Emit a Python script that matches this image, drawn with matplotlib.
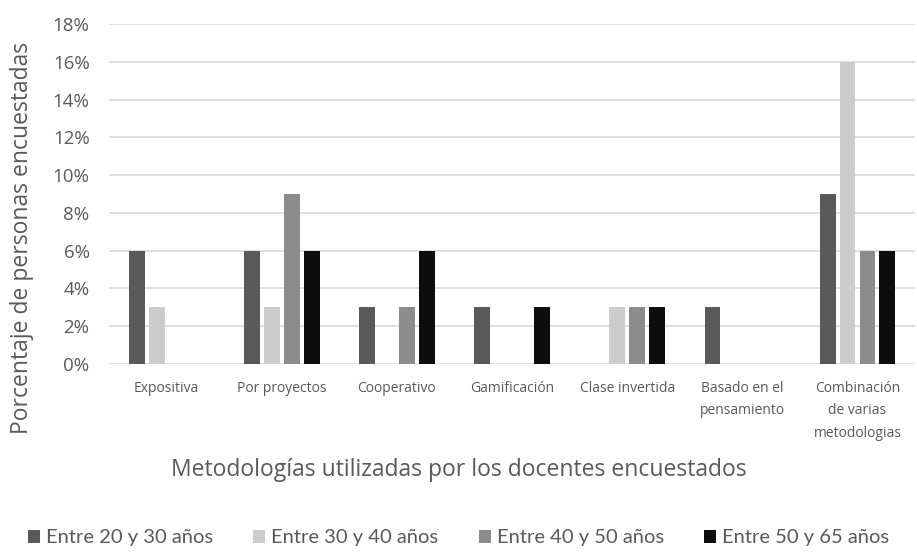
import matplotlib
matplotlib.use("Agg")
import matplotlib.pyplot as plt
import numpy as np
from matplotlib.ticker import FuncFormatter, MultipleLocator

plt.rcParams['font.family'] = ['Open Sans', 'DejaVu Sans']

categories = ["Expositiva", "Por proyectos", "Cooperativo", "Gamificación",
              "Clase invertida", "Basado en el\npensamiento",
              "Combinación\nde varias\nmetodologias"]
series_names = ["Entre 20 y 30 años", "Entre 30 y 40 años",
                "Entre 40 y 50 años", "Entre 50 y 65 años"]
entre_20_30 = [6, 6, 3, 3, 0, 3, 9]
entre_30_40 = [3, 3, 0, 0, 3, 0, 16]
entre_40_50 = [0, 9, 3, 0, 3, 0, 6]
entre_50_65 = [0, 6, 6, 3, 3, 0, 6]
colors = ["#595959", "#cccccc", "#8c8c8c", "#0d0d0d"]

series = [entre_20_30, entre_30_40, entre_40_50, entre_50_65]

fig = plt.figure(figsize=(9.17, 5.53), dpi=100)
ax = fig.add_axes([0.1189, 0.3418, 0.879, 0.6148])

x = np.arange(len(categories))
step = 0.173
width = 0.138
for i, (vals, col, name) in enumerate(zip(series, colors, series_names)):
    ax.bar(x + (i - 1.5) * step, np.array(vals) / 100.0, width=width,
           color=col, label=name, zorder=3)

ax.set_xlim(-0.5, len(categories) - 0.5)
ax.set_ylim(0, 0.18)
ax.yaxis.set_major_locator(MultipleLocator(0.02))
ax.yaxis.set_major_formatter(FuncFormatter(lambda v, p: f"{round(v*100)}%"))
ax.grid(axis='y', color='#d9d9d9', linewidth=1.2, zorder=0)
for s in ax.spines.values():
    s.set_visible(False)
ax.tick_params(axis='both', length=0)
ax.tick_params(axis='y', labelsize=13.5, labelcolor='#595959', pad=14)
ax.set_xticks(x)
ax.set_xticklabels(categories, fontsize=10, color='#595959', va='top',
                   linespacing=1.7)
ax.tick_params(axis='x', pad=12)

fig.text(22 / 917, 1 - 238 / 553, "Porcentaje de personas encuestadas",
         rotation=90, ha='center', va='center', fontsize=16.5, color='#595959')
fig.text(0.5, 1 - 470 / 553,
         "Metodologías utilizadas por los docentes encuestados",
         ha='center', va='center', fontsize=16.5, color='#595959')

fig.legend(loc='center', bbox_to_anchor=(0.5, 1 - 538 / 553), ncol=4,
           frameon=False, prop={'family': ['Lato', 'DejaVu Sans'], 'size': 14.5},
           handlelength=0.6, handleheight=0.6,
           handletextpad=0.3, columnspacing=2.0, labelcolor='#595959')

fig.savefig("out.png", dpi=100)
